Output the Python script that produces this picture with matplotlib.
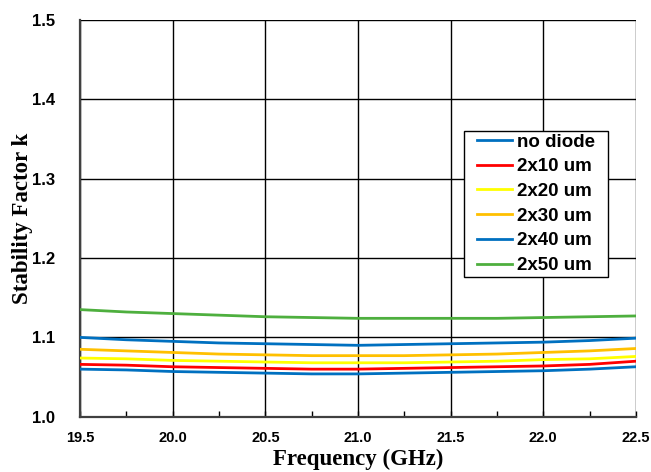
import matplotlib.pyplot as plt
from matplotlib.ticker import MultipleLocator
from matplotlib.path import Path

# frequency points (GHz)
freq = [19.5, 19.75, 20.0, 20.25, 20.5, 20.75, 21.0, 21.25, 21.5, 21.75, 22.0, 22.25, 22.5]

# stability factor k
k_no_diode = [1.060, 1.059, 1.057, 1.056, 1.055, 1.054, 1.054, 1.055, 1.056, 1.057, 1.058, 1.060, 1.063]
k_2x10 = [1.066, 1.065, 1.063, 1.062, 1.061, 1.060, 1.060, 1.061, 1.062, 1.063, 1.064, 1.066, 1.070]
k_2x20 = [1.074, 1.073, 1.071, 1.070, 1.069, 1.068, 1.068, 1.068, 1.069, 1.070, 1.072, 1.073, 1.076]
k_2x30 = [1.085, 1.083, 1.081, 1.079, 1.078, 1.077, 1.077, 1.077, 1.078, 1.079, 1.081, 1.083, 1.086]
k_2x40 = [1.100, 1.097, 1.095, 1.093, 1.092, 1.091, 1.090, 1.091, 1.092, 1.093, 1.094, 1.096, 1.099]
k_2x50 = [1.135, 1.132, 1.130, 1.128, 1.126, 1.125, 1.124, 1.124, 1.124, 1.124, 1.125, 1.126, 1.127]

labels = ['no diode', '2x10 um', '2x20 um', '2x30 um', '2x40 um', '2x50 um']
series = [k_no_diode, k_2x10, k_2x20, k_2x30, k_2x40, k_2x50]
colors = ['#0070C0', '#FF0000', '#FFFF00', '#FFC000', '#0070C0', '#4EAF3E']


def wide_box(x0, y0, width, height, mutation_size):
    # square legend frame with extra room left and right only
    px = 0.56 * mutation_size
    x0 -= px
    width += 2 * px
    return Path([(x0, y0), (x0 + width, y0), (x0 + width, y0 + height),
                 (x0, y0 + height), (x0, y0)], closed=True)


fig = plt.figure(figsize=(6.51, 4.72), dpi=100)
ax = fig.add_axes([0.1229, 0.117, 0.854, 0.841])

for vals, lab, col in zip(series, labels, colors):
    ax.plot(freq, vals, color=col, lw=2.0, label=lab, zorder=3)

ax.set_xlim(19.5, 22.5)
ax.set_ylim(1.0, 1.5)
ax.xaxis.set_major_locator(MultipleLocator(0.5))
ax.xaxis.set_minor_locator(MultipleLocator(0.25))
ax.yaxis.set_major_locator(MultipleLocator(0.1))
ax.xaxis.set_major_formatter(plt.FormatStrFormatter('%.1f'))
ax.yaxis.set_major_formatter(plt.FormatStrFormatter('%.1f'))

ax.grid(True, which='major', color='black', lw=1.0)
ax.tick_params(axis='x', which='both', direction='in', length=4, width=1, pad=10)
ax.tick_params(axis='y', which='both', length=0, pad=18)
for lab in ax.get_xticklabels() + ax.get_yticklabels():
    lab.set_fontfamily('Liberation Sans')
    lab.set_fontweight('bold')
for lab in ax.get_xticklabels():
    lab.set_fontsize(10.5)
for lab in ax.get_yticklabels():
    lab.set_fontsize(12)

for s in ['left', 'bottom']:
    ax.spines[s].set_color('#404040')
    ax.spines[s].set_linewidth(1.6)
for s in ['top', 'right']:
    ax.spines[s].set_visible(False)

ax.set_xlabel('Frequency (GHz)', fontfamily='Liberation Serif', fontweight='bold', fontsize=16.5, labelpad=3)
ax.set_ylabel('Stability Factor k', fontfamily='Liberation Serif', fontweight='bold', fontsize=16.5, labelpad=-0.5)

leg = ax.legend(loc='upper left', bbox_to_anchor=(0.7095, 0.7205), frameon=True, fancybox=False,
                edgecolor='black', framealpha=1, handlelength=1.87, handletextpad=0.27,
                labelspacing=0.405, borderpad=0.14, borderaxespad=0,
                prop={'family': 'Liberation Sans', 'weight': 'bold', 'size': 13.5})
leg.get_frame().set_boxstyle(wide_box)
leg.get_frame().set_linewidth(1.0)

fig.savefig('out.png', dpi=100)
